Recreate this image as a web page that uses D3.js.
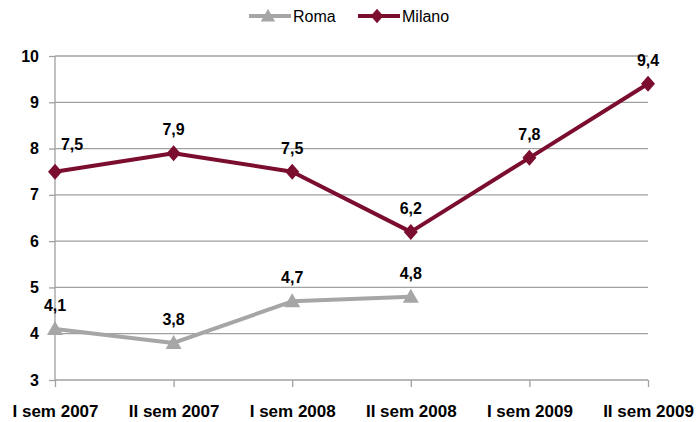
<!DOCTYPE html>
<html><head><meta charset="utf-8">
<script src="https://cdn.jsdelivr.net/npm/d3@7"></script>
<style>body{margin:0;background:#fff}svg{display:block}text{font-family:"Liberation Sans",Arial,sans-serif}</style>
</head><body><svg id="c" width="697" height="422"></svg>
<script>
const categories = ["I sem 2007","II sem 2007","I sem 2008","II sem 2008","I sem 2009","II sem 2009"];
const roma = [4.1, 3.8, 4.7, 4.8];
const milano = [7.5, 7.9, 7.5, 6.2, 7.8, 9.4];
const yTicks = [3,4,5,6,7,8,9,10];
const seriesNames = ["Roma","Milano"];
const colors = {Roma:"#a6a6a6", Milano:"#7b0d2f"};

const svg = d3.select("#c");
const x = d3.scalePoint().domain(categories).range([55, 648]);
const y = d3.scaleLinear().domain([3,10]).range([380, 56]);

// gridlines
svg.append("g").selectAll("line").data(yTicks.slice(1)).join("line")
  .attr("x1",55).attr("x2",648).attr("y1",d=>y(d)).attr("y2",d=>y(d))
  .attr("stroke","#a0a0a0").attr("stroke-width",1.3);

// y axis
const ya = svg.append("g").attr("transform","translate(55,0)")
  .call(d3.axisLeft(y).tickValues(yTicks).tickSize(6).tickPadding(10).tickFormat(d3.format("d")));
ya.select(".domain").attr("stroke","#a0a0a0").attr("stroke-width",1.3).attr("d","M0,56V380");
ya.selectAll(".tick line").attr("stroke","#a0a0a0").attr("stroke-width",1.3);
ya.selectAll("text").attr("font-size",16).attr("font-weight","bold").attr("fill","#000")
  .attr("font-family","'Liberation Sans',Arial,sans-serif");

// x axis
const xa = svg.append("g").attr("transform","translate(0,380)")
  .call(d3.axisBottom(x).tickSize(7).tickPadding(18));
xa.select(".domain").attr("stroke","#a0a0a0").attr("stroke-width",1.3).attr("d","M55,0H648");
xa.selectAll(".tick line").attr("stroke","#a0a0a0").attr("stroke-width",1.3);
xa.selectAll("text").attr("font-size",17).attr("font-weight","bold").attr("fill","#000")
  .attr("font-family","'Liberation Sans',Arial,sans-serif");

const line = d3.line().x((d,i)=>x(categories[i])).y(d=>y(d));
const fmt = v => String(v.toFixed(1)).replace(".",",");

function drawSeries(vals, name, marker){
  const g = svg.append("g");
  g.append("path").datum(vals).attr("d",line).attr("fill","none")
    .attr("stroke",colors[name]).attr("stroke-width",4).attr("stroke-linejoin","round");
  g.selectAll("path.m").data(vals).join("path").attr("class","m")
    .attr("transform",(d,i)=>`translate(${x(categories[i])},${y(d)})`)
    .attr("d",marker).attr("fill",colors[name]);
  g.selectAll("text").data(vals).join("text")
    .attr("x",(d,i)=>x(categories[i]) + (name==="Milano" && i===0 ? 17 : 0))
    .attr("y",(d,i)=>y(d)-18 - (name==="Milano" && i===0 ? 4 : 0))
    .attr("text-anchor","middle").attr("font-size",16).attr("font-weight","bold").attr("fill","#000")
    .text(d=>fmt(d));
}
const diamond = "M0,-8L7,0L0,8L-7,0Z";
const tri = "M0,-8L8,6L-8,6Z";
drawSeries(roma, "Roma", tri);
drawSeries(milano, "Milano", diamond);

// legend
const leg = svg.append("g");
const legItems = [{n:"Roma",x:249,m:tri},{n:"Milano",x:358,m:diamond}];
legItems.forEach(it=>{
  leg.append("line").attr("x1",it.x).attr("x2",it.x+42).attr("y1",16).attr("y2",16)
    .attr("stroke",colors[it.n]).attr("stroke-width",4);
  leg.append("path").attr("d",it.m).attr("transform",`translate(${it.x+19},16) scale(0.9)`).attr("fill",colors[it.n]);
  leg.append("text").attr("x",it.x+44).attr("y",22).attr("font-size",16).attr("fill","#000").text(it.n);
});
</script></body></html>
